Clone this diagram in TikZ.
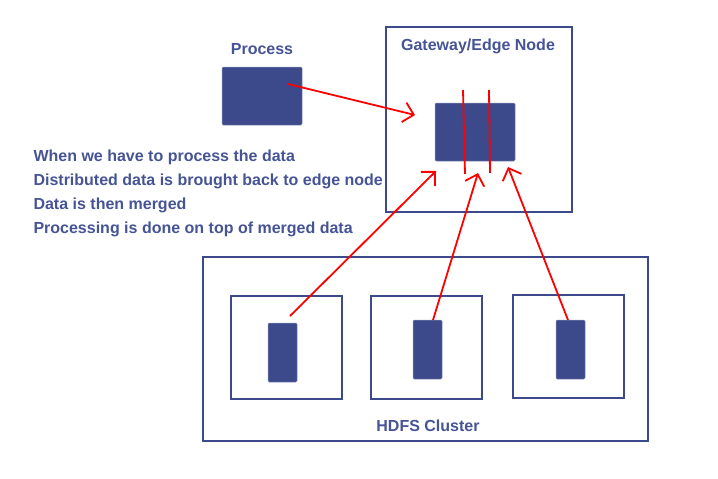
\documentclass[tikz,border=0pt]{standalone}
\usepackage{fontspec}
\setmainfont{Liberation Sans}
\usepackage{xcolor}
\usetikzlibrary{positioning, arrows.meta}
\definecolor{navy}{RGB}{60,73,138}
\definecolor{inkblue}{RGB}{70,84,150}
\tikzset{x=1pt, y=-1pt,
         block/.style={fill=navy, draw=navy!60, line width=0.5pt, rounded corners=1.2pt, inner sep=0pt},
         frame/.style={draw=navy, line width=1.8pt, inner sep=0pt},
         lbl/.style={text=inkblue, font=\fontsize{16}{18}\selectfont\bfseries},
         flow/.style={draw=red, line width=1.8pt},
         arrow/.style={flow, -{Straight Barb[length=10pt, width=20pt, line width=1.8pt]}},
         }

\begin{document}
\begin{tikzpicture}
    \useasboundingbox (0,0) rectangle (718,479);

    % process
    \node[block, minimum width=80pt, minimum height=58pt] (proc) at (262,96) {};
    \node[lbl] (proclbl) at (262,49) {Process};

    % gateway
    \node[frame, minimum width=186pt, minimum height=185pt] (gw) at (479,119.5) {};
    \node[lbl] (gwlbl) at (478,46) {Gateway/Edge Node};
    \node[block, minimum width=80pt, minimum height=58pt] (edge) at (475,132) {};

    % notes
    \node[lbl, anchor=north west, align=left, font=\fontsize{16}{24}\selectfont\bfseries] (notes) at (30,146)
        {When we have to process the data\\
         Distributed data is brought back to edge node\\
         Data is then merged\\
         Processing is done on top of merged data};

    % cluster
    \node[frame, minimum width=445pt, minimum height=184pt] (hdfs) at (425.5,349) {};
    \node[lbl] (hdfslbl) at (428,426) {HDFS Cluster};
    \node[frame, minimum width=111pt, minimum height=103pt] (dn1) at (286.5,347.5) {};
    \node[frame, minimum width=111pt, minimum height=103pt] (dn2) at (426.5,347.5) {};
    \node[frame, minimum width=111pt, minimum height=103pt] (dn3) at (568.5,346.5) {};
    \node[block, minimum width=29pt, minimum height=59pt] (blk1) at (282.5,352.5) {};
    \node[block, minimum width=29pt, minimum height=59pt] (blk2) at (427.5,349.5) {};
    \node[block, minimum width=29pt, minimum height=59pt] (blk3) at (570.5,349.5) {};

    % red strokes
    \coordinate (pa) at (288,84);
    \coordinate (pb) at (415,115);
    \coordinate (s1a) at (463,90);
    \coordinate (s1b) at (465,174);
    \coordinate (s2a) at (489,90);
    \coordinate (s2b) at (490,173);
    \coordinate (r1) at (290,316);
    \coordinate (t1) at (436,171);
    \coordinate (r2) at (433,320);
    \coordinate (t2) at (478,173);
    \coordinate (r3) at (568,320);
    \coordinate (t3) at (508,167);

    \draw[arrow] (pa) -- (pb);
    \draw[flow] (s1a) -- (s1b);
    \draw[flow] (s2a) -- (s2b);
    \draw[arrow] (r1) -- (t1);
    \draw[arrow] (r2) -- (t2);
    \draw[arrow] (r3) -- (t3);
\end{tikzpicture}
\end{document}
